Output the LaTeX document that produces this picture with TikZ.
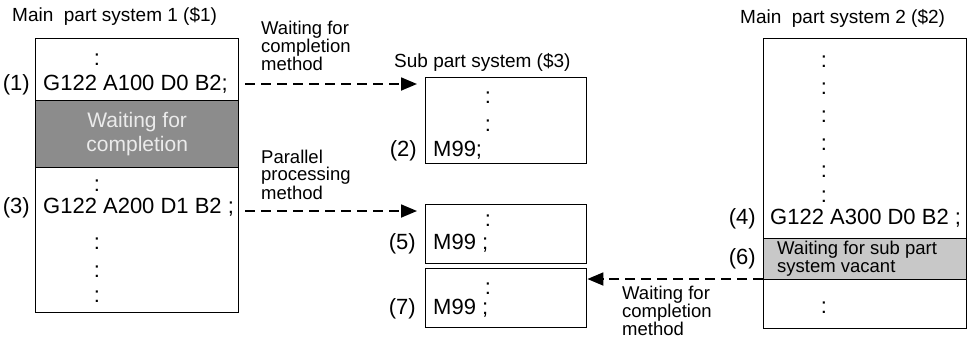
\documentclass[tikz,border=0pt]{standalone}
\usepackage{fontspec}
\setmainfont{Liberation Sans}
\usetikzlibrary{arrows.meta, positioning}
\definecolor{waitdark}{RGB}{140,140,140}
\definecolor{waitlight}{RGB}{200,200,200}

\begin{document}
\begin{tikzpicture}[x=1pt,y=-1pt,
	code/.style={font=\fontsize{22}{24}\selectfont, inner sep=0pt},
	note/.style={font=\fontsize{18.5}{17}\selectfont, inner sep=0pt, align=left},
	title/.style={font=\fontsize{19}{22}\selectfont, inner sep=0pt},
	progbox/.style={draw, line width=1.4pt, anchor=north west, inner sep=0pt},
	call/.style={line width=1.8pt, dash pattern=on 10pt off 6pt, -{Triangle[length=16pt,width=13pt]}}
]
\useasboundingbox (0,0) rectangle (969,338);

% main part system 1
\node[title, anchor=mid west] (title1) at (12,19) {Main~ part system 1 (\$1)};
\node[progbox, minimum width=203pt, minimum height=274pt] (main1) at (35,38) {};
\node[progbox, fill=waitdark, minimum width=203pt, minimum height=67pt,
	font=\fontsize{21}{24}\selectfont, text=white!92!black, align=center] (wait1) at (35,100) {\raisebox{-3pt}{Waiting for}\\\raisebox{-3pt}{completion}};
\node[code] (dot1a) at (97,60) {:};
\node[code, anchor=mid east] (num1) at (30,88) {(1)};
\node[code, anchor=mid west] (cmd1) at (43,88) {G122 A100 D0 B2;};
\node[code] (dot1b) at (97,186) {:};
\node[code, anchor=mid east] (num3) at (30,211) {(3)};
\node[code, anchor=mid west] (cmd3) at (43,211) {G122 A200 D1 B2 ;};
\foreach \y in {244,272,297}
	\node[code] (dot1-\y) at (97,\y) {:};

% sub part system
\node[title, anchor=mid west] (title3) at (394,65) {Sub part system (\$3)};
\node[progbox, minimum width=161pt, minimum height=86pt] (sub1) at (425,77) {};
\node[progbox, minimum width=161pt, minimum height=59pt] (sub2) at (425,204) {};
\node[progbox, minimum width=161pt, minimum height=59pt] (sub3) at (425,268) {};
\node[code] (dot3a) at (488,98) {:};
\node[code] (dot3b) at (488,126) {:};
\node[code, anchor=mid east] (num2) at (417,154) {(2)};
\node[code, anchor=mid west] (ret2) at (433,154) {M99;};
\node[code] (dot3c) at (488,221) {:};
\node[code, anchor=mid east] (num5) at (416,247) {(5)};
\node[code, anchor=mid west] (ret5) at (433,247) {M99 ;};
\node[code] (dot3d) at (488,289) {:};
\node[code, anchor=mid east] (num7) at (416,312) {(7)};
\node[code, anchor=mid west] (ret7) at (433,312) {M99 ;};

% main part system 2
\node[title, anchor=mid west] (title2) at (740,21) {Main~ part system 2 (\$2)};
\node[progbox, minimum width=203pt, minimum height=290pt] (main2) at (763,38) {};
\node[progbox, fill=waitlight, minimum width=203pt, minimum height=41pt] (wait2) at (763,238) {};
\node[note, font=\fontsize{18.5}{18}\selectfont, anchor=west] (waittext2) at (777,259) {Waiting for sub part\\system vacant};
\foreach \y in {62,89,117,145,172,197}
	\node[code] (dot2-\y) at (824,\y) {:};
\node[code, anchor=mid east] (num4) at (756,222) {(4)};
\node[code, anchor=mid west] (cmd4) at (770,222) {G122 A300 D0 B2 ;};
\node[code, anchor=mid east] (num6) at (756,262) {(6)};
\node[code] (dot2b) at (824,308) {:};

% calls
\coordinate (from1) at (245,84);
\coordinate (from3) at (245,211);
\coordinate (from4) at (763,279);
\draw[call, shorten >=8pt] (from1) -- (from1 -| sub1.west);
\draw[call, shorten >=8pt] (from3) -- (from3 -| sub2.west);
\draw[call] (from4) -- (from4 -| sub3.east);
\node[note, anchor=west] (lbl1) at (261,46) {Waiting for\\completion\\method};
\node[note, anchor=west] (lbl3) at (261,175) {Parallel\\processing\\method};
\node[note, anchor=west] (lbl4) at (622,311) {Waiting for\\completion\\method};
\end{tikzpicture}
\end{document}
